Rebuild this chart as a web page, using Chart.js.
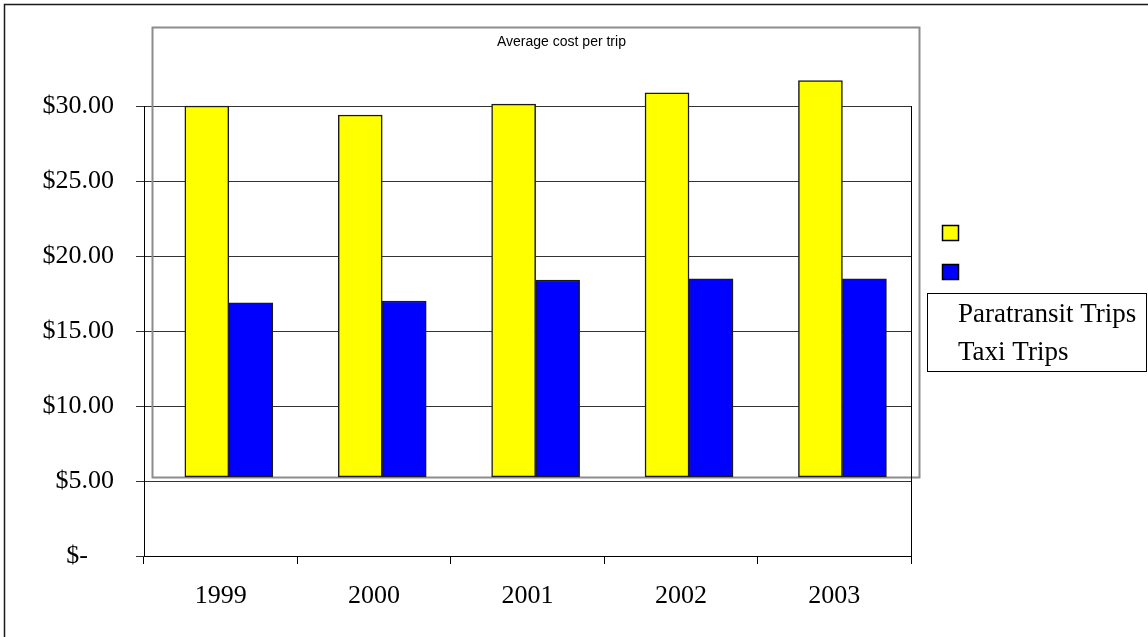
<!DOCTYPE html>
<html>
<head>
<meta charset="utf-8">
<script src="https://cdn.jsdelivr.net/npm/chart.js@4"></script>
<style>
  html, body { margin: 0; padding: 0; background: #ffffff; }
  canvas { display: block; }
</style>
</head>
<body>
<canvas id="costChart" width="1148" height="637"></canvas>
<script>
// Average cost per trip, by year
const years = ['1999', '2000', '2001', '2002', '2003'];
const paratransitCost = [30.00, 29.40, 30.13, 30.87, 31.69];
const taxiCost = [16.87, 17.00, 18.40, 18.47, 18.47];
const seriesNames = ['Paratransit Trips', 'Taxi Trips'];
const chartTitle = 'Average cost per trip';
const yTickValues = [0, 5, 10, 15, 20, 25, 30];
// floor of the inner bar frame, in dollars
const barFloor = 5.27;

const SERIF = '"Liberation Serif", "Times New Roman", serif';
const SANS = '"Liberation Sans", Arial, sans-serif';

// accounting style: "$30.00", zero shown as "$-"
function money(v) {
  return v === 0 ? '$-    ' : '$' + v.toFixed(2);
}

const frameLayer = {
  id: 'frameLayer',
  beforeDraw(chart) {
    const ctx = chart.ctx;
    ctx.save();
    // outer chart border (left and top edges)
    ctx.strokeStyle = '#1a1a1a';
    ctx.lineWidth = 1.5;
    ctx.beginPath();
    ctx.moveTo(4.5, chart.height);
    ctx.lineTo(4.5, 4.5);
    ctx.lineTo(chart.width, 4.5);
    ctx.stroke();
    ctx.restore();
  },
  beforeDatasetsDraw(chart) {
    const ctx = chart.ctx;
    const xb = chart.scales.xb;
    const y = chart.scales.y;
    const left = Math.round(xb.getPixelForValue(-0.5)) + 0.5;
    const right = Math.round(xb.getPixelForValue(years.length - 0.5)) + 0.5;
    const bottom = Math.round(y.getPixelForValue(barFloor)) + 0.5;
    const top = 27.5;
    ctx.save();
    // inner frame holding the bars and title
    ctx.strokeStyle = '#8c8c8c';
    ctx.lineWidth = 2;
    ctx.strokeRect(left, top, right - left, bottom - top);
    ctx.fillStyle = '#000';
    ctx.font = '14px ' + SANS;
    ctx.textAlign = 'left';
    ctx.textBaseline = 'alphabetic';
    ctx.fillText(chartTitle, 497, 46);
    // right edge of the plot area
    const a = chart.chartArea;
    ctx.strokeStyle = '#000';
    ctx.lineWidth = 1;
    ctx.beginPath();
    ctx.moveTo(Math.round(a.right) + 0.5, a.top);
    ctx.lineTo(Math.round(a.right) + 0.5, a.bottom);
    ctx.stroke();
    ctx.restore();
  },
  afterDraw(chart) {
    const ctx = chart.ctx;
    const ds = chart.data.datasets;
    ctx.save();
    // legend swatches
    const swatchY = [225, 264];
    ds.forEach((d, i) => {
      ctx.fillStyle = d.backgroundColor;
      ctx.fillRect(942, swatchY[i], 17, 16);
      ctx.strokeStyle = '#000';
      ctx.lineWidth = 1.5;
      ctx.strokeRect(942.5, swatchY[i] + 0.5, 16, 15);
    });
    // legend text box
    ctx.strokeStyle = '#000';
    ctx.lineWidth = 1;
    ctx.strokeRect(927.5, 293.5, 219, 78);
    ctx.fillStyle = '#000';
    ctx.font = '27px ' + SERIF;
    ctx.textAlign = 'left';
    ctx.textBaseline = 'alphabetic';
    const textY = [322, 360];
    ds.forEach((d, i) => ctx.fillText(d.label, 958, textY[i]));
    ctx.restore();
  }
};

new Chart(document.getElementById('costChart'), {
  type: 'bar',
  data: {
    labels: years,
    datasets: [
      {
        label: seriesNames[0],
        xAxisID: 'xb',
        data: paratransitCost.map((v, i) => ({ x: i, y: v })),
        backgroundColor: '#ffff00'
      },
      {
        label: seriesNames[1],
        xAxisID: 'xb',
        data: taxiCost.map((v, i) => ({ x: i, y: v })),
        backgroundColor: '#0000ff'
      }
    ]
  },
  options: {
    responsive: false,
    devicePixelRatio: 1,
    animation: false,
    layout: { padding: { top: 106, right: 237, left: 0, bottom: 0 } },
    datasets: {
      bar: {
        base: barFloor,
        clip: false,
        barThickness: 44,
        borderColor: '#1a1a1a',
        borderWidth: 1.5,
        borderSkipped: false
      }
    },
    plugins: {
      legend: { display: false },
      tooltip: { enabled: false },
      title: { display: false }
    },
    scales: {
      x: {
        type: 'category',
        offset: true,
        position: 'bottom',
        afterFit(scale) { scale.height = 81; },
        grid: {
          offset: true,
          drawOnChartArea: false,
          drawTicks: true,
          tickLength: 8,
          color: '#000'
        },
        border: { display: true, color: '#000', width: 1 },
        ticks: {
          color: '#000',
          font: { family: SERIF, size: 26 },
          padding: 17,
          maxRotation: 0
        }
      },
      xb: {
        type: 'linear',
        display: false,
        offset: false,
        bounds: 'data',
        // inner bar frame sits slightly right of the plot area
        min: -0.553,
        max: years.length - 0.553,
        ticks: { stepSize: 1, includeBounds: false }
      },
      y: {
        min: 0,
        max: 30,
        position: 'left',
        afterFit(scale) { scale.width = 144; },
        afterBuildTicks(scale) { scale.ticks = yTickValues.map(v => ({ value: v })); },
        grid: {
          color: '#333',
          lineWidth: 1,
          tickLength: 8
        },
        border: { display: true, color: '#000', width: 1 },
        ticks: {
          color: '#000',
          font: { family: SERIF, size: 26 },
          padding: 22,
          callback: (v) => money(v)
        }
      }
    }
  },
  plugins: [frameLayer]
});
</script>
</body>
</html>
